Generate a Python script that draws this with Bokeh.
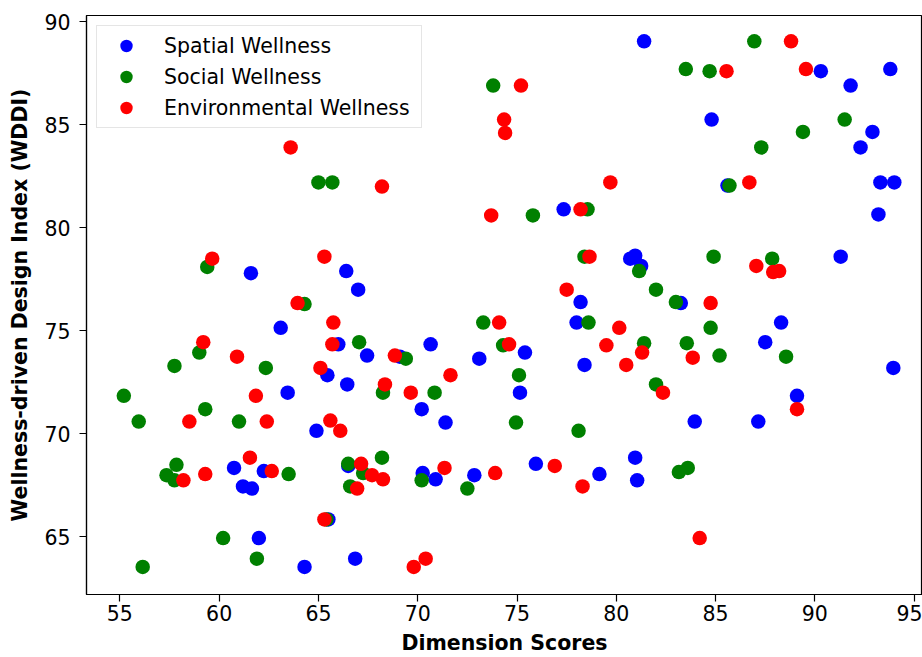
from bokeh.plotting import figure
from bokeh.models import Range1d, FixedTicker, Legend, LegendItem
from bokeh.embed import file_html
from bokeh.resources import INLINE

# ---- data ----
spatial_x = [81.4, 61.6, 66.4, 67.0, 77.35, 80.7, 80.95, 81.25, 78.2, 90.3, 93.8, 91.8, 84.8, 92.9, 92.3,
             85.6, 93.3, 94.0, 93.2, 91.3, 83.25, 88.3, 87.5, 93.95, 89.1, 83.95, 87.15, 78.0, 75.4, 78.4,
             70.65, 69.1, 73.1, 75.15, 70.2, 71.4, 75.95, 80.95, 81.05, 79.15, 70.25, 70.9, 72.85, 63.1,
             66.0, 67.45, 65.45, 66.45, 63.45, 64.9, 60.75, 62.25, 61.2, 61.65, 66.5, 65.5, 62.0, 66.85, 64.3]
spatial_y = [89.05, 77.8, 77.9, 77.0, 80.9, 78.5, 78.65, 78.15, 76.4, 87.6, 87.7, 86.9, 85.25, 84.65, 83.9,
             82.05, 82.2, 82.2, 80.65, 78.6, 76.35, 75.4, 74.45, 73.2, 71.85, 70.6, 70.6, 75.4, 73.95, 73.35,
             74.35, 73.75, 73.65, 72.0, 71.2, 70.55, 68.55, 68.85, 67.75, 68.05, 68.1, 67.8, 68.0, 75.15,
             74.35, 73.8, 72.85, 72.4, 72.0, 70.15, 68.35, 68.2, 67.45, 67.35, 68.45, 65.85, 64.95, 63.95, 63.55]

social_x = [65.0, 65.7, 59.4, 64.3, 73.8, 75.8, 78.55, 78.4, 81.15, 82.0, 86.95, 83.5, 84.7, 91.5, 89.4,
            87.3, 85.7, 84.9, 87.85, 83.0, 84.75, 81.4, 83.55, 85.2, 88.55, 82.0, 83.15, 83.6, 78.6, 73.3,
            74.3, 69.4, 75.1, 68.25, 70.85, 74.95, 78.1, 68.2, 70.2, 72.5, 59.0, 67.05, 57.75, 62.35, 55.2,
            59.3, 55.95, 61.0, 57.85, 57.35, 57.75, 63.5, 66.5, 67.25, 66.6, 65.4, 60.2, 61.9, 56.15]
social_y = [82.2, 82.2, 78.1, 76.3, 86.9, 80.6, 80.9, 78.6, 77.9, 77.0, 89.05, 87.7, 87.6, 85.25, 84.65,
            83.9, 82.05, 78.6, 78.5, 76.4, 75.15, 74.4, 74.4, 73.8, 73.75, 72.4, 68.15, 68.35, 75.4, 75.4,
            74.3, 73.65, 72.85, 72.0, 72.0, 70.55, 70.15, 68.85, 67.75, 67.35, 73.95, 74.45, 73.3, 73.2, 71.85,
            71.2, 70.6, 70.6, 68.5, 68.0, 67.75, 68.05, 68.55, 68.1, 67.45, 65.85, 64.95, 63.95, 63.55]

env_x = [63.6, 68.2, 59.65, 65.3, 63.95, 75.2, 74.35, 74.4, 79.7, 73.7, 78.2, 78.65, 77.5, 88.8, 85.55,
         89.55, 86.7, 87.05, 87.9, 88.2, 84.75, 81.3, 83.85, 82.35, 89.1, 84.2, 80.15, 74.1, 74.6, 79.5,
         80.5, 68.85, 71.65, 68.35, 69.65, 76.9, 78.3, 67.7, 68.25, 71.35, 73.9, 70.4, 69.8, 65.75, 59.2,
         65.7, 60.9, 65.1, 61.85, 58.5, 62.4, 65.6, 66.1, 61.55, 58.2, 59.3, 62.65, 67.15, 66.95, 65.3]
env_y = [83.9, 82.0, 78.5, 78.6, 76.35, 86.9, 85.25, 84.6, 82.2, 80.6, 80.9, 78.6, 77.0, 89.05, 87.6,
         87.7, 82.2, 78.15, 77.85, 77.9, 76.35, 73.95, 73.7, 72.0, 71.2, 64.95, 75.15, 75.4, 74.35, 74.3,
         73.35, 73.8, 72.85, 72.4, 72.0, 68.45, 67.45, 68.0, 67.8, 68.35, 68.1, 63.95, 63.55, 75.4, 74.45,
         74.35, 73.75, 73.2, 71.85, 70.6, 70.6, 70.65, 70.15, 68.85, 67.75, 68.05, 68.2, 68.55, 67.35, 65.85]

series_names = ["Spatial Wellness", "Social Wellness", "Environmental Wellness"]
series_colors = ["#0000ff", "#008000", "#ff0000"]
x_ticks = [55, 60, 65, 70, 75, 80, 85, 90, 95]
y_ticks = [65, 70, 75, 80, 85, 90]

FONT = "DejaVu Sans"

p = figure(width=922, height=657, output_backend="svg", toolbar_location=None,
           x_range=Range1d(53.32, 95.42), y_range=Range1d(62.21, 90.30),
           min_border_left=86, min_border_right=0, min_border_top=15, min_border_bottom=63)
p.background_fill_color = "white"
p.border_fill_color = "white"
p.outline_line_color = "black"
p.outline_line_width = 1.2
p.xgrid.visible = False
p.ygrid.visible = False

renderers = []
for xs, ys, c in [(spatial_x, spatial_y, series_colors[0]),
                  (social_x, social_y, series_colors[1]),
                  (env_x, env_y, series_colors[2])]:
    r = p.scatter(xs, ys, size=14.5, fill_color=c, line_color=None)
    renderers.append(r)

for ax in (p.xaxis[0], p.yaxis[0]):
    ax.axis_line_color = "black"
    ax.axis_line_width = 1.2
    ax.major_tick_line_color = "black"
    ax.major_tick_line_width = 1.2
    ax.major_tick_in = 0
    ax.major_tick_out = 7
    ax.minor_tick_line_color = None
    ax.major_label_text_font = FONT
    ax.major_label_text_font_size = "20.5px"
    ax.major_label_text_color = "black"
    ax.axis_label_text_font = FONT
    ax.axis_label_text_font_size = "20.5px"
    ax.axis_label_text_font_style = "bold"
    ax.axis_label_text_color = "black"

p.xaxis.ticker = FixedTicker(ticks=x_ticks)
p.yaxis.ticker = FixedTicker(ticks=y_ticks)
p.xaxis.axis_label = "Dimension Scores"
p.yaxis.axis_label = "Wellness-driven Design Index (WDDI)"
p.xaxis.major_label_standoff = 3
p.xaxis.axis_label_standoff = 7
p.yaxis.major_label_standoff = 9
p.yaxis.axis_label_standoff = 9

legend = Legend(items=[LegendItem(label=n, renderers=[r]) for n, r in zip(series_names, renderers)],
                location="top_left", margin=10, padding=4, spacing=0,
                glyph_height=31, glyph_width=50, label_standoff=13, label_width=253,
                label_text_font=FONT, label_text_font_size="20.5px", label_text_color="black",
                border_line_color="#cccccc", border_line_width=1.2,
                background_fill_color="white", background_fill_alpha=0.8)
p.add_layout(legend)

open("out.html", "w").write(file_html(p, INLINE))
